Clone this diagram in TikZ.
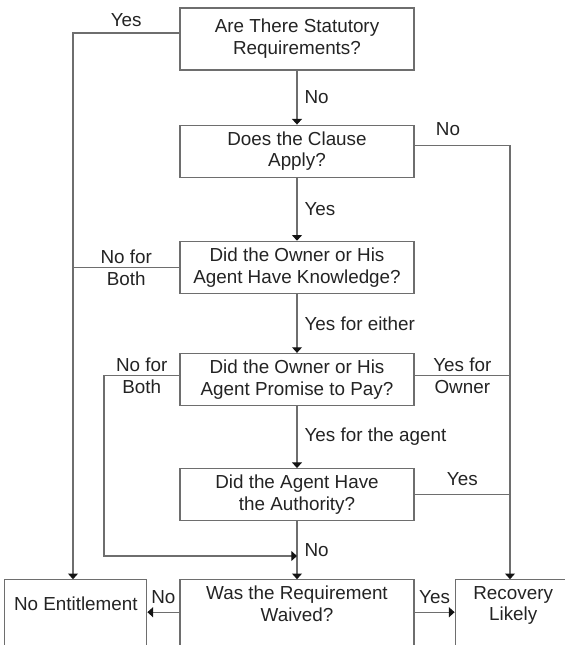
\documentclass[tikz,border=0pt]{standalone}
\usepackage{fontspec}
\setmainfont{Liberation Sans}
\usetikzlibrary{
        arrows.meta,
        calc,
        positioning
    }
\definecolor{flowline}{RGB}{110,110,110}
\definecolor{flowtext}{RGB}{35,35,35}
\definecolor{flowtip}{RGB}{20,20,20}
\tikzset{>={Triangle[length=4pt,width=7pt,color=flowtip]}}
\tikzset{
    question/.style={draw=flowline,line width=0.8pt,align=center,
        minimum width=5.85cm,minimum height=1.3cm,inner sep=3pt,
        text=flowtext,font=\fontsize{13.4}{15.6}\selectfont},
    outcome/.style={question,anchor=north,minimum height=0pt,
        inner ysep=4.5pt,text depth=40pt},
    answer/.style={text=flowtext,inner sep=3pt,align=center,
        font=\fontsize{13.4}{15.6}\selectfont},
    flow/.style={draw=flowline,line width=0.8pt}
}

\begin{document}
\begin{tikzpicture}[x=0.025cm,y=-0.025cm]
            \clip (0,0) rectangle (565,645);
            \node[question,minimum height=1.55cm] (stat) at (297,39) {Are There Statutory\\Requirements?};
            \node[question] (clause)  [below=1.35cm of stat]    {Does the Clause\\Apply?};
            \node[question] (know)    [below=1.575cm of clause] {Did the Owner or His\\Agent Have Knowledge?};
            \node[question] (promise) [below=1.475cm of know]   {Did the Owner or His\\Agent Promise to Pay?};
            \node[question] (auth)    [below=1.55cm of promise] {Did the Agent Have\\the Authority?};
            \node[outcome]  (waived)  [below=1.45cm of auth]    {Was the Requirement\\Waived?};
            \node[outcome,minimum width=3.55cm,inner ysep=12pt,anchor=north east] (none)
                at ([xshift=-0.8cm]waived.north west) {No Entitlement};
            \node[outcome,minimum width=2.9cm,anchor=north west] (rec)
                at ([xshift=1cm]waived.north east) {Recovery\\Likely};
            % side rails
            \coordinate (lft) at (73,0);
            \coordinate (rgt) at (510,0);
            \coordinate (nfb) at (104,0);
            \coordinate (nojoin) at ($(auth.south)!0.6!(waived.north)$);
            \coordinate (sw) at ([yshift=0.15cm]stat.west);
            \coordinate (ce) at ([yshift=0.15cm]clause.east);
            \coordinate (pw) at ([yshift=0.1cm]promise.west);
            \coordinate (pe) at ([yshift=0.1cm]promise.east);
            \coordinate (wl) at ([yshift=-0.825cm]waived.north west);
            \coordinate (wr) at ([yshift=-0.825cm]waived.north east);
            \path[flow,->]
                (stat)    edge node[answer,right=2pt] {No} (clause)
                (clause)  edge node[answer,right=2pt] {Yes} (know)
                (know)    edge node[answer,right=2pt] {Yes for either} (promise)
                (promise) edge node[answer,right=2pt] {Yes for the agent} (auth)
                (auth)    edge node[answer,right=2pt] {No} (waived)
            ;
            \draw[flow,->] (wl) -- node[answer,above=3pt] {No} (wl -| none.east);
            \draw[flow,->] (wr) -- node[answer,above=3pt] {Yes} (wr -| rec.west);
            \draw[flow,->] (sw) -- node[answer,above=1pt] {Yes} (sw -| lft) -- (none.north -| lft);
            \draw[flow] (know.west) -- node[answer] {No for\\Both} (know.west -| lft);
            \draw[flow,->] (pw) -- node[answer] {No for\\Both} (pw -| nfb) -- (nfb |- nojoin) -- (nojoin);
            \draw[flow,->] (ce) -- node[answer,above=3pt,pos=0.35] {No} (ce -| rgt) -- (rec.north -| rgt);
            \draw[flow] (pe) -- node[answer] {Yes for\\Owner} (pe -| rgt);
            \draw[flow] (auth.east) -- node[answer,above=3pt] {Yes} (auth.east -| rgt);
\end{tikzpicture}
\end{document}
